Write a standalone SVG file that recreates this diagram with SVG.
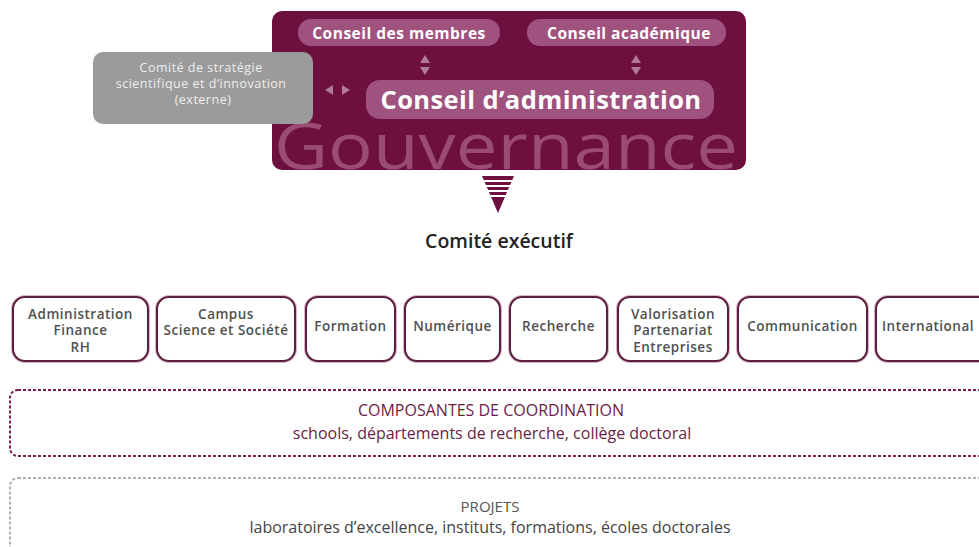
<svg xmlns="http://www.w3.org/2000/svg" width="979" height="547" viewBox="0 0 979 547">
<style>
.pill{fill:#a0527e}
.pilltxt{font-family:"Open Sans",sans-serif;font-weight:700;fill:#fff;text-anchor:middle}
.box{fill:#fff;stroke:#5a1f3e;stroke-width:2}
.halo{fill:none;stroke:#d9b6c8;stroke-width:4}
.boxtxt{font-family:"Open Sans",sans-serif;font-weight:600;font-size:13.5px;letter-spacing:0.5px;fill:#505050;text-anchor:middle}
.tri{fill:#b07a98}
.big{font-family:"Open Sans",sans-serif;text-anchor:middle}
</style>
<defs>
<clipPath id="gclip"><rect x="272" y="11" width="474" height="159" rx="10"/></clipPath>
</defs>
<rect width="979" height="547" fill="#fff"/>
<g id="gouvernance">
<rect x="272" y="11" width="474" height="159" rx="10" fill="#6d0f3f"/>
<text x="506" y="169" clip-path="url(#gclip)" font-family="Open Sans, sans-serif" font-size="64" fill="#9a4c76" text-anchor="middle" textLength="464" lengthAdjust="spacingAndGlyphs">Gouvernance</text>
</g>
<g id="conseil-membres">
<rect class="pill" x="298" y="19" width="202" height="27" rx="13"/>
<text class="pilltxt" x="399" y="38.5" font-size="15.5" letter-spacing="0.5">Conseil des membres</text>
</g>
<g id="conseil-academique">
<rect class="pill" x="527" y="19" width="199" height="27" rx="13"/>
<text class="pilltxt" x="629" y="38.5" font-size="15.5" letter-spacing="0.5">Conseil académique</text>
</g>
<g id="conseil-administration">
<rect class="pill" x="366" y="80" width="348" height="39" rx="14"/>
<text class="pilltxt" x="541" y="109" font-size="25.5" letter-spacing="0.4">Conseil d’administration</text>
</g>
<g id="comite-strategie">
<rect x="93" y="52" width="220" height="72" rx="10" fill="#9b9b9b"/>
<text font-family="Open Sans, sans-serif" font-size="12.5" letter-spacing="0.5" fill="#eeeeee" text-anchor="middle">
<tspan x="203" y="72">Comité de stratégie</tspan>
<tspan x="203" y="88">scientifique et d’innovation</tspan>
<tspan x="203" y="104">(externe)</tspan>
</text>
</g>
<g id="connectors">
<polygon class="tri" points="425,55 430,63 420,63"/>
<polygon class="tri" points="420,67 430,67 425,75"/>
<polygon class="tri" points="636,55 641,63 631,63"/>
<polygon class="tri" points="631,67 641,67 636,75"/>
<polygon class="tri" points="325,90 333,85 333,95"/>
<polygon class="tri" points="342,85 350,90 342,95"/>
<polygon points="482,176 514,176 498,213" fill="#6d0f3f"/>
<g stroke="#fff" stroke-width="2">
<line x1="478" y1="181" x2="518" y2="181"/>
<line x1="478" y1="186" x2="518" y2="186"/>
<line x1="478" y1="191" x2="518" y2="191"/>
<line x1="478" y1="196" x2="518" y2="196"/>
</g>
</g>
<g id="comite-executif">
<text class="big" x="499" y="248" font-size="19.5" font-weight="600" fill="#222">Comité exécutif</text>
</g>
<g id="admin">
<rect class="halo" x="13" y="297" width="135" height="64" rx="12"/>
<rect class="box" x="13" y="297" width="135" height="64" rx="12"/>
<text class="boxtxt"><tspan x="80.5" y="318.5">Administration</tspan><tspan x="80.5" y="335">Finance</tspan><tspan x="80.5" y="351.5">RH</tspan></text>
</g>
<g id="campus">
<rect class="halo" x="157" y="297" width="138" height="64" rx="12"/>
<rect class="box" x="157" y="297" width="138" height="64" rx="12"/>
<text class="boxtxt"><tspan x="226" y="318.5">Campus</tspan><tspan x="226" y="335">Science et Société</tspan></text>
</g>
<g id="formation">
<rect class="halo" x="306" y="297" width="89" height="64" rx="12"/>
<rect class="box" x="306" y="297" width="89" height="64" rx="12"/>
<text class="boxtxt" x="350.5" y="331">Formation</text>
</g>
<g id="numerique">
<rect class="halo" x="405" y="297" width="95" height="64" rx="12"/>
<rect class="box" x="405" y="297" width="95" height="64" rx="12"/>
<text class="boxtxt" x="452.5" y="331">Numérique</text>
</g>
<g id="recherche">
<rect class="halo" x="510" y="297" width="97" height="64" rx="12"/>
<rect class="box" x="510" y="297" width="97" height="64" rx="12"/>
<text class="boxtxt" x="558.5" y="331">Recherche</text>
</g>
<g id="valorisation">
<rect class="halo" x="618" y="297" width="110" height="64" rx="12"/>
<rect class="box" x="618" y="297" width="110" height="64" rx="12"/>
<text class="boxtxt"><tspan x="673" y="318.5">Valorisation</tspan><tspan x="673" y="335">Partenariat</tspan><tspan x="673" y="351.5">Entreprises</tspan></text>
</g>
<g id="communication">
<rect class="halo" x="738" y="297" width="129" height="64" rx="12"/>
<rect class="box" x="738" y="297" width="129" height="64" rx="12"/>
<text class="boxtxt" x="802.5" y="331">Communication</text>
</g>
<g id="international">
<rect class="halo" x="876" y="297" width="115" height="64" rx="12"/>
<rect class="box" x="876" y="297" width="115" height="64" rx="12"/>
<text class="boxtxt" x="928" y="331">International</text>
</g>
<g id="composantes">
<rect x="10" y="390" width="985" height="66" rx="8" fill="none" stroke="#7a1f4f" stroke-width="2" stroke-dasharray="3 2"/>
<text class="big" x="491" y="416" font-size="16" fill="#6b1d45">COMPOSANTES DE COORDINATION</text>
<text class="big" x="492" y="439" font-size="16" fill="#6b1d45">schools, départements de recherche, collège doctoral</text>
</g>
<g id="projets">
<rect x="10" y="478" width="985" height="90" rx="8" fill="none" stroke="#b0b0b0" stroke-width="2" stroke-dasharray="3 2"/>
<text class="big" x="490" y="512" font-size="15" fill="#555">PROJETS</text>
<text class="big" x="490" y="533" font-size="16" fill="#444">laboratoires d’excellence, instituts, formations, écoles doctorales</text>
</g>
</svg>
